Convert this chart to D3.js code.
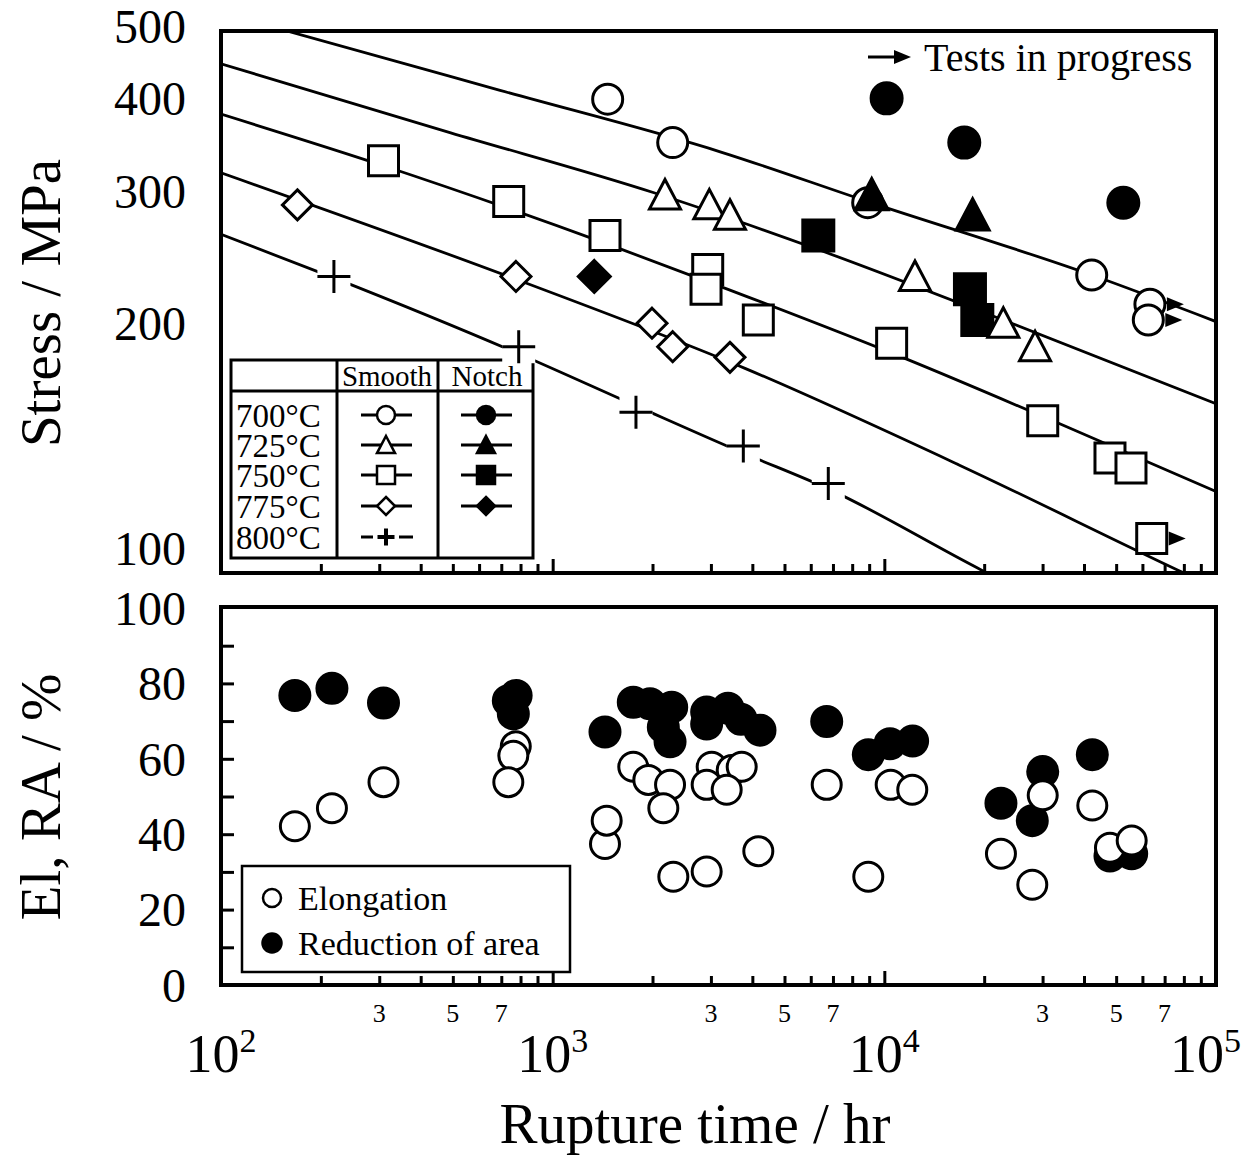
<!DOCTYPE html>
<html>
<head>
<meta charset="utf-8">
<script src="https://d3js.org/d3.v7.min.js"></script>
<style>
body { margin: 0; background: #fff; }
svg { display: block; font-family: "Liberation Serif", "Times New Roman", serif; }
</style>
</head>
<body>
<div id="chart"></div>
<script>
// ---- data: [rupture time (hr), stress (MPa)] ----
var smooth700 = [[1465, 399], [2301, 349], [8909, 290], [42200, 232], [63200, 212], [62500, 202]];
var notch700  = [[10160, 400], [17420, 349], [52550, 290]];
var smooth725 = [[2181, 297], [2967, 288], [3424, 279], [12370, 231], [22840, 200], [28470, 186]];
var notch725  = [[9161, 297], [18460, 279]];
var smooth750 = [[309, 330], [737, 291], [1438, 262], [2934, 236], [2900, 222], [4169, 202], [10520, 188],
                 [30030, 148], [47900, 132], [55420, 128], [64000, 103]];
var notch750  = [[6323, 262], [18120, 222], [19070, 202]];
var smooth775 = [[170, 288], [775, 231], [1993, 200], [2301, 186], [3424, 180]];
var notch775  = [[1335, 231]];
var smooth800 = [[219, 231], [790, 186], [1783, 152], [3757, 137], [6777, 122]];

// tests still running (arrow drawn to the right)
var inProgress = [[63200, 212], [62500, 202], [64000, 103]];

// master curves
var fit700 = [[100, 521], [154, 494], [694, 410], [3217, 339], [8909, 291], [42200, 232], [100000, 201]];
var fit725 = [[100, 445], [490, 360], [2021, 299], [6310, 251], [22790, 202], [100000, 156]];
var fit750 = [[100, 381], [309, 325], [1438, 256], [3378, 222], [11680, 179], [33390, 147], [100000, 119]];
var fit775 = [[100, 318], [775, 229], [3801, 174], [16910, 129], [76800, 93.4], [100000, 88.4]];
var fit800 = [[100, 263], [219, 230], [790, 182], [1783, 155], [3757, 134], [6777, 120], [19660, 93.4], [31600, 84]];

// ductility: [rupture time (hr), %]
var reductionOfArea = [[167, 76.8], [216, 78.7], [309, 74.8], [735, 75.4], [776, 76.8], [761, 71.9], [1438, 67.1],
  [1750, 75], [1966, 74.6], [2285, 73.7], [2156, 68.4], [2259, 64.5], [2913, 72.4], [2913, 69.2], [3378, 73.4],
  [3697, 70.5], [4218, 67.6], [6703, 69.9], [8946, 61.1], [10400, 64], [12170, 64.7], [22470, 48.2], [30030, 56.6],
  [27930, 43.6], [42370, 61.1], [47900, 34.2], [55690, 34.8]];
var elongation = [[167, 42.1], [216, 46.9], [309, 53.8], [774, 63.3], [761, 60.8], [735, 53.8], [1438, 37.4],
  [1455, 43.6], [1750, 57.9], [1943, 54.4], [2259, 53.1], [2156, 46.9], [2311, 28.7], [3016, 57.9], [3466, 57],
  [3715, 57.9], [2913, 53.1], [3347, 51.8], [2913, 30.1], [4169, 35.5], [6703, 53.1], [10450, 53.1], [12140, 51.8],
  [8946, 28.7], [22470, 34.8], [27930, 26.6], [30030, 50.3], [42370, 47.6], [47900, 36.4], [55690, 38.3]];

// ticks and labels
var stressTicks = [100, 200, 300, 400, 500];
var pctLabels = [0, 20, 40, 60, 80, 100];
var pctTicks = [10, 20, 30, 40, 50, 60, 70, 80, 90];
var decades = [2, 3, 4, 5];
var smallLabels = [3, 5, 7];
var temps = ["700°C", "725°C", "750°C", "775°C", "800°C"];

var width = 1245, height = 1160;
var left = 221, right = 1216;
var topY0 = 31, topY1 = 573, botY0 = 607, botY1 = 985;

var svg = d3.select("#chart").append("svg")
    .attr("width", width).attr("height", height);

var x = d3.scaleLog().domain([100, 1e5]).range([left, right]);
var yTop = d3.scaleLog().domain([100, 500]).range([548, 26]);
var yBot = d3.scaleLinear().domain([0, 100]).range([botY1, 608]);

// minor / major tick values
var minorX = [], majorX = [1000, 10000];
[100, 1000, 10000].forEach(function(d) {
    for (var m = 2; m <= 9; m++) minorX.push(d * m);
});

svg.append("clipPath").attr("id", "clipTop")
  .append("rect").attr("x", left).attr("y", topY0).attr("width", right - left).attr("height", topY1 - topY0);

// ---------- top panel ----------
var line = d3.line().x(function(d) { return x(d[0]); }).y(function(d) { return yTop(d[1]); })
    .curve(d3.curveMonotoneX);

svg.append("g").attr("clip-path", "url(#clipTop)")
  .selectAll("path").data([fit700, fit725, fit750, fit775, fit800]).enter()
  .append("path").attr("d", line).attr("fill", "none").attr("stroke", "#000").attr("stroke-width", 2.8);

// legend table (drawn before markers, plus markers cover its corner)
var lg = svg.append("g").attr("stroke", "#000").attr("stroke-width", 3);
lg.append("rect").attr("x", 231).attr("y", 360).attr("width", 302).attr("height", 198).attr("fill", "#fff");
lg.append("line").attr("x1", 337).attr("x2", 337).attr("y1", 360).attr("y2", 558);
lg.append("line").attr("x1", 438).attr("x2", 438).attr("y1", 360).attr("y2", 558);
lg.append("line").attr("x1", 231).attr("x2", 533).attr("y1", 391).attr("y2", 391);

svg.append("text").attr("x", 387).attr("y", 386).attr("text-anchor", "middle").attr("font-size", 29).text("Smooth");
svg.append("text").attr("x", 487).attr("y", 386).attr("text-anchor", "middle").attr("font-size", 29).text("Notch");

var rowY = [415, 445, 475, 506, 537];
svg.selectAll(".tlab").data(temps).enter().append("text")
  .attr("x", 236).attr("y", function(d, i) { return rowY[i]; }).attr("dy", "0.35em")
  .attr("font-size", 33).text(function(d) { return d; });

function shape(type, s) {
    var h = s / 2;
    if (type === "triangle") return "M0," + (-h) + "L" + h + "," + (h * 0.9) + "L" + (-h) + "," + (h * 0.9) + "Z";
    if (type === "diamond") return "M0," + (-h) + "L" + h + ",0L0," + h + "L" + (-h) + ",0Z";
    if (type === "square") return "M" + (-h) + "," + (-h) + "H" + h + "V" + h + "H" + (-h) + "Z";
    if (type === "plus") return "M" + (-h) + ",0H" + h + "M0," + (-h) + "V" + h;
    return "";
}

function drawMarker(g, type, filled, cx, cy, s, sw) {
    if (type === "circle") {
        g.append("circle").attr("cx", cx).attr("cy", cy).attr("r", s / 2)
          .attr("fill", filled ? "#000" : "#fff").attr("stroke", "#000").attr("stroke-width", sw);
    } else if (type === "plus") {
        g.append("rect").attr("x", cx - s / 2).attr("y", cy - s / 2).attr("width", s).attr("height", s).attr("fill", "#fff");
        g.append("path").attr("transform", "translate(" + cx + "," + cy + ")").attr("d", shape(type, s))
          .attr("fill", "none").attr("stroke", "#000").attr("stroke-width", sw);
    } else {
        g.append("path").attr("transform", "translate(" + cx + "," + cy + ")").attr("d", shape(type, s))
          .attr("fill", filled ? "#000" : "#fff").attr("stroke", "#000").attr("stroke-width", sw);
    }
}

// legend symbols
var legendShapes = ["circle", "triangle", "square", "diamond", "plus"];
legendShapes.forEach(function(t, i) {
    var yy = rowY[i];
    if (t === "plus") {
        svg.append("path").attr("d", "M361," + yy + "H373M399," + yy + "H413")
          .attr("stroke", "#000").attr("stroke-width", 3);
        svg.append("path").attr("transform", "translate(386," + yy + ")").attr("d", shape("plus", 17))
          .attr("fill", "none").attr("stroke", "#000").attr("stroke-width", 4);
        return;
    }
    [[386, false], [486, true]].forEach(function(c) {
        svg.append("line").attr("x1", c[0] - 25).attr("x2", c[0] + 26).attr("y1", yy).attr("y2", yy)
          .attr("stroke", "#000").attr("stroke-width", 3);
        drawMarker(svg, t, c[1], c[0], yy, 18, 2.5);
    });
});

// data markers (order chosen so overlaps match)
var series = [
    {data: notch750, type: "square", filled: true, size: 31},
    {data: notch775, type: "diamond", filled: true, size: 32},
    {data: smooth700, type: "circle", filled: false, size: 30},
    {data: smooth750, type: "square", filled: false, size: 30},
    {data: smooth775, type: "diamond", filled: false, size: 30},
    {data: smooth800, type: "plus", filled: false, size: 33},
    {data: smooth725, type: "triangle", filled: false, size: 31},
    {data: notch700, type: "circle", filled: true, size: 31},
    {data: notch725, type: "triangle", filled: true, size: 33}
];
var mg = svg.append("g");
series.forEach(function(s) {
    s.data.forEach(function(d) {
        drawMarker(mg, s.type, s.filled, x(d[0]), yTop(d[1]), s.size, 3);
    });
});

// tests in progress arrows
svg.selectAll(".arr").data(inProgress).enter().append("path")
  .attr("transform", function(d) { return "translate(" + x(d[0]) + "," + yTop(d[1]) + ")"; })
  .attr("d", "M17,-7L34,0L17,7Z").attr("fill", "#000");

svg.append("line").attr("x1", 868).attr("x2", 897).attr("y1", 57).attr("y2", 57).attr("stroke", "#000").attr("stroke-width", 3);
svg.append("path").attr("d", "M894,50L911,57L894,64Z").attr("fill", "#000");
svg.append("text").attr("x", 924).attr("y", 57).attr("dy", "0.35em").attr("font-size", 40).text("Tests in progress");

// top frame + ticks
svg.append("g").attr("transform", "translate(0," + topY1 + ")")
  .call(d3.axisTop(x).tickValues(minorX).tickSize(9).tickFormat(""))
  .call(function(g) { g.select(".domain").remove(); g.selectAll("line").attr("stroke-width", 3); });
svg.append("g").attr("transform", "translate(0," + topY1 + ")")
  .call(d3.axisTop(x).tickValues(majorX).tickSize(14).tickFormat(""))
  .call(function(g) { g.select(".domain").remove(); g.selectAll("line").attr("stroke-width", 3); });
svg.append("rect").attr("x", left).attr("y", topY0).attr("width", right - left).attr("height", topY1 - topY0)
  .attr("fill", "none").attr("stroke", "#000").attr("stroke-width", 4);

svg.selectAll(".ylabT").data(stressTicks).enter().append("text")
  .attr("x", 186).attr("y", function(d) { return yTop(d); }).attr("dy", "0.35em")
  .attr("text-anchor", "end").attr("font-size", 48).text(function(d) { return d; });

svg.append("text").attr("transform", "translate(60,303) rotate(-90)").attr("text-anchor", "middle")
  .attr("font-size", 57).text("Stress / MPa");

// ---------- bottom panel ----------
var bg = svg.append("g");
reductionOfArea.forEach(function(d) { drawMarker(bg, "circle", true, x(d[0]), yBot(d[1]), 30, 3); });
elongation.forEach(function(d) { drawMarker(bg, "circle", false, x(d[0]), yBot(d[1]), 29, 3); });

svg.append("rect").attr("x", 242).attr("y", 866).attr("width", 328).attr("height", 106)
  .attr("fill", "#fff").attr("stroke", "#000").attr("stroke-width", 2.5);
drawMarker(svg, "circle", false, 272, 898, 18, 2.5);
drawMarker(svg, "circle", true, 272, 943, 19, 2.5);
svg.append("text").attr("x", 298).attr("y", 898).attr("dy", "0.35em").attr("font-size", 34).text("Elongation");
svg.append("text").attr("x", 298).attr("y", 943).attr("dy", "0.35em").attr("font-size", 34).text("Reduction of area");

svg.append("g").attr("transform", "translate(0," + botY1 + ")")
  .call(d3.axisTop(x).tickValues(minorX).tickSize(9).tickFormat(""))
  .call(function(g) { g.select(".domain").remove(); g.selectAll("line").attr("stroke-width", 3); });
svg.append("g").attr("transform", "translate(0," + botY1 + ")")
  .call(d3.axisTop(x).tickValues(majorX).tickSize(14).tickFormat(""))
  .call(function(g) { g.select(".domain").remove(); g.selectAll("line").attr("stroke-width", 3); });
svg.append("g").attr("transform", "translate(" + left + ",0)")
  .call(d3.axisRight(yBot).tickValues(pctTicks).tickSize(13).tickFormat(""))
  .call(function(g) { g.select(".domain").remove(); g.selectAll("line").attr("stroke-width", 3); });
svg.append("rect").attr("x", left).attr("y", botY0).attr("width", right - left).attr("height", botY1 - botY0)
  .attr("fill", "none").attr("stroke", "#000").attr("stroke-width", 4);

svg.selectAll(".ylabB").data(pctLabels).enter().append("text")
  .attr("x", 186).attr("y", function(d) { return yBot(d); }).attr("dy", "0.35em")
  .attr("text-anchor", "end").attr("font-size", 48).text(function(d) { return d; });

svg.append("text").attr("transform", "translate(60,797) rotate(-90)").attr("text-anchor", "middle")
  .attr("font-size", 57).text("El, RA / %");

// x labels (10^n), kept inside the page
decades.forEach(function(k) {
    var t = svg.append("text").attr("x", x(Math.pow(10, k))).attr("y", 1072)
      .attr("text-anchor", "middle").attr("font-size", 54);
    t.append("tspan").text("10");
    t.append("tspan").attr("dy", -20).attr("font-size", 34).text(k);
    var bb = t.node().getBBox();
    if (bb.x + bb.width > width - 4) t.attr("x", x(Math.pow(10, k)) - (bb.x + bb.width - (width - 4)));
});
[100, 1000, 10000].forEach(function(d) {
    smallLabels.forEach(function(m) {
        svg.append("text").attr("x", x(d * m)).attr("y", 1013).attr("dy", "0.35em")
          .attr("text-anchor", "middle").attr("font-size", 26).text(m);
    });
});

svg.append("text").attr("x", 695).attr("y", 1143).attr("text-anchor", "middle")
  .attr("font-size", 57).text("Rupture time / hr");
</script>
</body>
</html>
